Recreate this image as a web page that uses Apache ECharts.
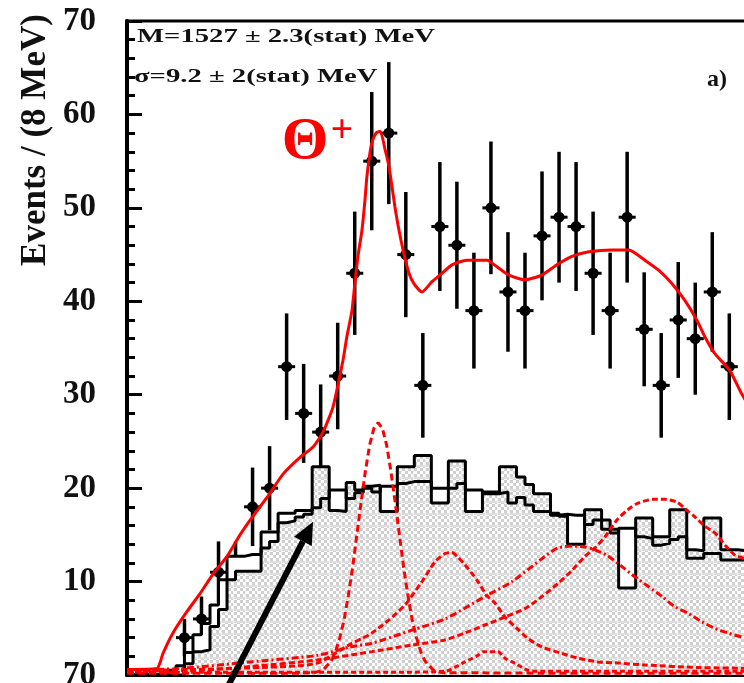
<!DOCTYPE html>
<html>
<head>
<meta charset="utf-8">
<title>Theta+ invariant mass</title>
<script src="https://cdn.jsdelivr.net/npm/echarts/dist/echarts.min.js"></script>
<style>
  html, body { margin: 0; padding: 0; background: #fff; overflow: hidden; }
  #chart { width: 780px; height: 683px; }
</style>
</head>
<body>
<div id="chart"></div>
<script>
// ---- measured spectrum: 8 MeV bins ----
const massCenters = [1436, 1444, 1452, 1460, 1468, 1476, 1484, 1492, 1500, 1508, 1516,
  1524, 1532, 1540, 1548, 1556, 1564, 1572, 1580, 1588, 1596, 1604, 1612, 1620, 1628, 1636,
  1644, 1652, 1660, 1668, 1676, 1684, 1692];
const counts = [4, 6, 11, 11, 18, 20, 33, 28, 26, 32, 43, 55, 58, 45, 31, 48, 46, 39, 50,
  41, 39, 47, 49, 48, 43, 39, 49, 37, 31, 38, 36, 41, 33];
const countErrors = [2.0, 2.4, 3.3, 3.3, 4.2, 4.5, 5.7, 5.3, 5.1, 5.7, 6.6, 7.4, 7.6, 6.7,
  5.6, 6.9, 6.8, 6.2, 7.1, 6.4, 6.2, 6.9, 7.0, 6.9, 6.6, 6.2, 7.0, 6.1, 5.6, 6.2, 6.0, 6.4, 5.7];
const massHalfBin = 4;

// ---- simulated background histograms: 4 MeV bins starting at 1424 MeV ----
const histStart = 1424;
const histBinWidth = 4;
const mcFilled = [0, 0, 0, 1.2, 2.5, 2.7, 5.2, 7.0, 10.2, 11.1, 11.1, 11.1, 13.6, 14.3, 16.3,
  16.5, 16.9, 17.2, 22.3, 22.3, 17.6, 17.5, 20.6, 19.8, 20.2, 20.3, 17.5, 17.5, 22.3, 22.3,
  23.5, 23.5, 18.4, 18.4, 22.9, 22.9, 17.5, 17.5, 19.6, 19.6, 22.3, 22.3, 21.2, 20.4, 19.4,
  19.4, 17.3, 17.0, 14.0, 14.0, 17.7, 17.7, 16.6, 15.6, 9.3, 9.3, 16.8, 16.8, 14.8, 14.8,
  17.7, 17.7, 13.4, 13.3, 16.8, 16.8, 13.4, 13.4, 13.3, 13.0, 12.6, 12.4];
const mcOutline = [0, 0.5, 1.0, 2.4, 4.3, 5.5, 7.5, 10.2, 12.7, 12.7, 12.9, 12.9, 15.3, 15.3,
  17.3, 17.3, 17.6, 17.6, 17.9, 18.9, 19.8, 19.8, 18.9, 19.5, 20.0, 19.6, 20.2, 20.2, 20.5,
  20.7, 20.7, 20.7, 20.0, 20.0, 20.0, 20.5, 19.8, 19.8, 19.4, 19.4, 19.6, 18.4, 19.0, 18.2,
  17.5, 17.5, 17.1, 17.2, 17.1, 17.1, 16.1, 16.6, 15.6, 15.2, 15.7, 15.7, 14.8, 14.6, 13.9,
  14.1, 14.5, 14.8, 12.5, 12.5, 13.0, 13.0, 12.3, 12.3, 12.3, 12.0, 11.8, 11.6];

// ---- total fit ----
const fitMass = [1409.0, 1423.1, 1424.5, 1425.9, 1430.6, 1437.2, 1443.3, 1449.4, 1456.0, 1462.1,
  1468.2, 1474.8, 1482.3, 1490.3, 1496.4, 1501.1, 1505.8, 1510.5, 1512.3, 1514.7, 1516.1,
  1517.5, 1519.4, 1520.8, 1521.7, 1523.1, 1524.1, 1526.0, 1528.0, 1530.2, 1532.1, 1533.5,
  1534.9, 1536.8, 1539.1, 1541.5, 1543.8, 1547.6, 1552.3, 1557.0, 1561.7, 1568.7, 1578.1,
  1582.8, 1588.4, 1595.9, 1603.9, 1611.0, 1618.0, 1626.0, 1636.8, 1644.8, 1652.3, 1658.9,
  1665.0, 1671.1, 1676.7, 1680.5, 1685.2, 1692.2, 1697.8, 1705.0, 1713.0];
const fitValue = [0.6, 0.7, 1.3, 2.3, 4.5, 6.8, 8.7, 10.8, 12.7, 15.0, 17.0, 19.0, 21.5, 23.3,
  24.4, 26.0, 28.7, 33.7, 36.2, 39.0, 42.0, 44.8, 47.6, 50.8, 53.3, 55.8, 57.0, 58.0, 58.2,
  56.3, 54.4, 52.3, 50.1, 47.6, 45.1, 43.0, 41.9, 41.0, 42.1, 43.0, 43.9, 44.4, 44.4, 43.7,
  42.8, 42.3, 42.8, 43.9, 44.8, 45.3, 45.5, 45.5, 44.4, 43.3, 41.9, 40.1, 38.0, 36.2, 34.4,
  32.6, 30.1, 27.5, 25.0];

// ---- signal peak ----
const signalMass = [1409, 1490, 1497, 1501, 1505, 1507, 1509, 1511, 1513, 1515, 1517, 1519, 1521,
  1523, 1525, 1527, 1529, 1531, 1533, 1535, 1537, 1539, 1541, 1543, 1545, 1547, 1549, 1553,
  1557, 1600, 1713];
const signalValue = [0.2, 0.2, 0.25, 0.5, 1.5, 2.5, 4.0, 5.9, 8.5, 11.5, 15.0, 18.5, 21.8, 24.6,
  26.4, 27.0, 26.4, 24.6, 21.8, 18.5, 15.0, 11.5, 8.5, 5.9, 4.0, 2.5, 1.5, 0.5, 0.25, 0.2, 0.2];

// ---- background components ----
const bgAMass = [1409.0, 1443.3, 1471.5, 1490.3, 1498.7, 1506.7, 1514.7, 1519.4, 1524.1, 1532.1,
  1539.6, 1547.6, 1553.7, 1558.4, 1561.7, 1564.5, 1567.8, 1571.0, 1573.9, 1578.1, 1581.9,
  1586.6, 1592.2, 1597.4, 1604.0, 1613.4, 1620.9, 1630.3, 1638.3, 1652.4, 1678.2, 1706.4];
const bgAValue = [0.5, 0.6, 0.8, 1.0, 1.3, 2.3, 3.4, 3.9, 4.5, 5.9, 7.5, 10.0, 12.1, 13.0, 13.1,
  12.6, 11.8, 10.9, 10.0, 8.5, 7.7, 6.2, 5.0, 3.9, 3.0, 2.3, 1.8, 1.4, 1.3, 1.07, 0.8, 0.7];

const bgBMass = [1409.0, 1433.9, 1466.8, 1498.3, 1513.8, 1524.1, 1542.9, 1558.4, 1577.2, 1589.9,
  1605.4, 1611.5, 1618.1, 1624.2, 1628.9, 1634.5, 1641.6, 1647.7, 1653.8, 1660.4, 1666.5,
  1672.6, 1679.1, 1685.2, 1691.3, 1698.9, 1711.1];
const bgBValue = [0.5, 0.7, 1.4, 2.1, 3.0, 3.4, 4.8, 6.0, 8.4, 10.0, 12.7, 13.6, 13.8, 13.7,
  13.4, 12.8, 11.6, 10.5, 9.5, 8.4, 7.3, 6.6, 5.7, 5.0, 4.5, 4.0, 3.5];

const bgCMass = [1409.0, 1443.3, 1466.8, 1498.3, 1524.1, 1542.9, 1558.4, 1567.8, 1577.2, 1586.6,
  1596.0, 1604.0, 1611.5, 1618.1, 1624.2, 1628.9, 1633.6, 1639.2, 1644.4, 1649.1, 1656.2,
  1661.8, 1667.4, 1671.2, 1675.9, 1680.6, 1685.3, 1690.0, 1694.7, 1698.4, 1711.1];
const bgCValue = [0.4, 0.5, 0.9, 1.6, 2.5, 3.2, 3.75, 4.5, 5.35, 6.2, 7.1, 8.4, 9.8, 11.2, 12.7,
  13.6, 14.8, 16.6, 17.7, 18.4, 18.8, 18.8, 18.5, 17.8, 16.9, 15.9, 15.2, 13.9, 12.8, 12.5, 10.0];

const bgDMass = [1409.0, 1537.3, 1558.4, 1567.8, 1573.9, 1576.3, 1583.3, 1586.6, 1591.3, 1597.4,
  1605.4, 1711.1];
const bgDValue = [0.3, 0.3, 0.4, 1.4, 2.1, 2.5, 2.5, 1.8, 1.25, 0.5, 0.4, 0.4];

// ---- helpers ----
const pairs = (xs, ys) => xs.map((x, i) => [x, ys[i]]);
function histSteps(vals) {
  const d = vals.map((v, j) => [histStart + j * histBinWidth, v]);
  d.push([histStart + vals.length * histBinWidth, vals[vals.length - 1]]);
  return d;
}

// light-grey checker used for the filled histogram
const tile = document.createElement('canvas');
tile.width = 12; tile.height = 12;
const tg = tile.getContext('2d');
tg.fillStyle = '#ffffff'; tg.fillRect(0, 0, 12, 12);
tg.fillStyle = '#cfcfcf';
for (let i = 0; i < 4; i++) {
  for (let j = 0; j < 4; j++) {
    if ((i + j) % 2 === 0) tg.fillRect(i * 3, j * 3, 3, 3);
  }
}
tg.fillStyle = '#dedede'; tg.fillRect(0, 9, 12, 2);
tg.fillStyle = '#f2f2f2'; tg.fillRect(5, 0, 1, 12);

const RED = '#ff0000';
const serif = '"Liberation Serif", "DejaVu Serif", serif';

function redCurve(name, data, dash) {
  return {
    name, type: 'line', data, showSymbol: false, smooth: 0.25, z: 6,
    lineStyle: { color: RED, width: 3, type: dash }, silent: true
  };
}

const chart = echarts.init(document.getElementById('chart'), null, { renderer: 'canvas' });

chart.setOption({
  animation: false,
  backgroundColor: '#ffffff',
  grid: {
    left: 127, top: 21, width: 647, height: 654,
    containLabel: false, outerBoundsMode: 'none',
    show: true, borderColor: '#000', borderWidth: 3, backgroundColor: 'transparent'
  },
  xAxis: {
    type: 'value', min: 1409, max: 1713,
    axisLine: { show: true, onZero: false, lineStyle: { color: '#000', width: 4 } },
    axisTick: { show: false }, axisLabel: { show: false },
    splitLine: { show: false }, minorTick: { show: false }, minorSplitLine: { show: false }
  },
  yAxis: {
    type: 'value', min: 0, max: 70, interval: 10,
    axisLine: { show: true, onZero: false, lineStyle: { color: '#000', width: 4 } },
    axisTick: { show: true, inside: true, length: 15, lineStyle: { color: '#000', width: 3 } },
    minorTick: { show: true, splitNumber: 5, length: 8, lineStyle: { color: '#000', width: 3 } },
    splitLine: { show: false }, minorSplitLine: { show: false },
    axisLabel: {
      margin: 31, fontFamily: serif, fontWeight: 'bold', fontSize: 33, color: '#111',
      formatter: v => (v === 0 ? '' : String(v))
    }
  },
  series: [
    {
      name: 'data', type: 'custom', z: 1, silent: true,
      data: massCenters.map((m, i) => [m, counts[i], countErrors[i]]),
      renderItem: (params, api) => {
        const x = api.value(0), y = api.value(1), e = api.value(2);
        const c = api.coord([x, y]);
        const top = api.coord([x, y + e]);
        const bot = api.coord([x, Math.max(y - e, 0)]);
        const l = api.coord([x - massHalfBin, y]);
        const r = api.coord([x + massHalfBin, y]);
        return {
          type: 'group', children: [
            { type: 'line', shape: { x1: c[0], y1: top[1], x2: c[0], y2: bot[1] }, style: { stroke: '#000', lineWidth: 3.5 } },
            { type: 'line', shape: { x1: l[0], y1: c[1], x2: r[0], y2: c[1] }, style: { stroke: '#000', lineWidth: 3 } },
            { type: 'circle', shape: { cx: c[0], cy: c[1], r: 5.5 }, style: { fill: '#000' } }
          ]
        };
      }
    },
    {
      name: 'mc outline area', type: 'line', step: 'end', z: 2, showSymbol: false, silent: true,
      data: histSteps(mcOutline),
      lineStyle: { opacity: 0, width: 0 },
      areaStyle: { color: '#ffffff', opacity: 1 }
    },
    {
      name: 'mc filled', type: 'line', step: 'end', z: 3, showSymbol: false, silent: true,
      data: histSteps(mcFilled),
      lineStyle: { color: '#000', width: 3 },
      areaStyle: { color: { image: tile, repeat: 'repeat' }, opacity: 1 }
    },
    {
      name: 'mc outline', type: 'line', step: 'end', z: 4, showSymbol: false, silent: true,
      data: histSteps(mcOutline),
      lineStyle: { color: '#000', width: 3 }
    },
    redCurve('bg A', pairs(bgAMass, bgAValue), [6, 3]),
    redCurve('bg B', pairs(bgBMass, bgBValue), [7, 3, 2, 3]),
    redCurve('bg C', pairs(bgCMass, bgCValue), [6, 3]),
    redCurve('bg D', pairs(bgDMass, bgDValue), [5, 3]),
    Object.assign(redCurve('signal', pairs(signalMass, signalValue), [7, 4]), { smooth: false }),
    {
      name: 'fit', type: 'line', data: pairs(fitMass, fitValue), showSymbol: false, smooth: 0.2,
      z: 7, silent: true, lineStyle: { color: RED, width: 3 }
    }
  ],
  graphic: [
    { type: 'text', id: 'ytitle', x: 36, y: 140, rotation: Math.PI / 2, z: 20,
      style: { text: 'Events / (8 MeV)', font: 'bold 35px ' + serif, fill: '#111',
        textAlign: 'center', textVerticalAlign: 'middle' } },
    { type: 'text', id: 'lowlabel', x: 96, y: 675, z: 20,
      style: { text: '70', font: 'bold 33px ' + serif, fill: '#111',
        textAlign: 'right', textVerticalAlign: 'middle' } },
    { type: 'text', id: 'massfit', x: 137, y: 37, scaleX: 1.47, z: 20,
      style: { text: 'M=1527 \u00b1 2.3(stat) MeV', font: 'bold 19.5px ' + serif, fill: '#111',
        textAlign: 'left', textVerticalAlign: 'middle' } },
    { type: 'text', id: 'widthfit', x: 134, y: 77, scaleX: 1.47, z: 20,
      style: { text: '\u03c3=9.2 \u00b1 2(stat) MeV', font: 'bold 19.5px ' + serif, fill: '#111',
        textAlign: 'left', textVerticalAlign: 'middle' } },
    { type: 'text', id: 'panel', x: 727, y: 80, z: 20,
      style: { text: 'a)', font: 'bold 24px ' + serif, fill: '#111',
        textAlign: 'right', textVerticalAlign: 'middle' } },
    { type: 'text', id: 'theta', x: 305, y: 142, z: 20,
      style: { text: '\u0398', font: 'bold 60px ' + serif, fill: RED,
        textAlign: 'center', textVerticalAlign: 'middle' } },
    { type: 'text', id: 'thetaplus', x: 342, y: 132, z: 20,
      style: { text: '+', font: 'bold 40px ' + serif, fill: RED,
        textAlign: 'center', textVerticalAlign: 'middle' } }
  ]
});

// arrow pointing at the simulated background
const tip = chart.convertToPixel({ gridIndex: 0 }, [1496.4, 16.4]);
const tail = chart.convertToPixel({ gridIndex: 0 }, [1455.3, -1.7]);
const dx = tip[0] - tail[0], dy = tip[1] - tail[1];
const len = Math.hypot(dx, dy);
const ux = dx / len, uy = dy / len;
const headLen = 22, headHalf = 10;
const base = [tip[0] - ux * headLen, tip[1] - uy * headLen];
chart.setOption({
  graphic: [
    { type: 'line', id: 'arrowShaft', z: 30,
      shape: { x1: tail[0], y1: tail[1], x2: base[0], y2: base[1] },
      style: { stroke: '#000', lineWidth: 6 } },
    { type: 'polygon', id: 'arrowHead', z: 30,
      shape: { points: [tip,
        [base[0] - uy * headHalf, base[1] + ux * headHalf],
        [base[0] + uy * headHalf, base[1] - ux * headHalf]] },
      style: { fill: '#000' } }
  ]
});
</script>
</body>
</html>
